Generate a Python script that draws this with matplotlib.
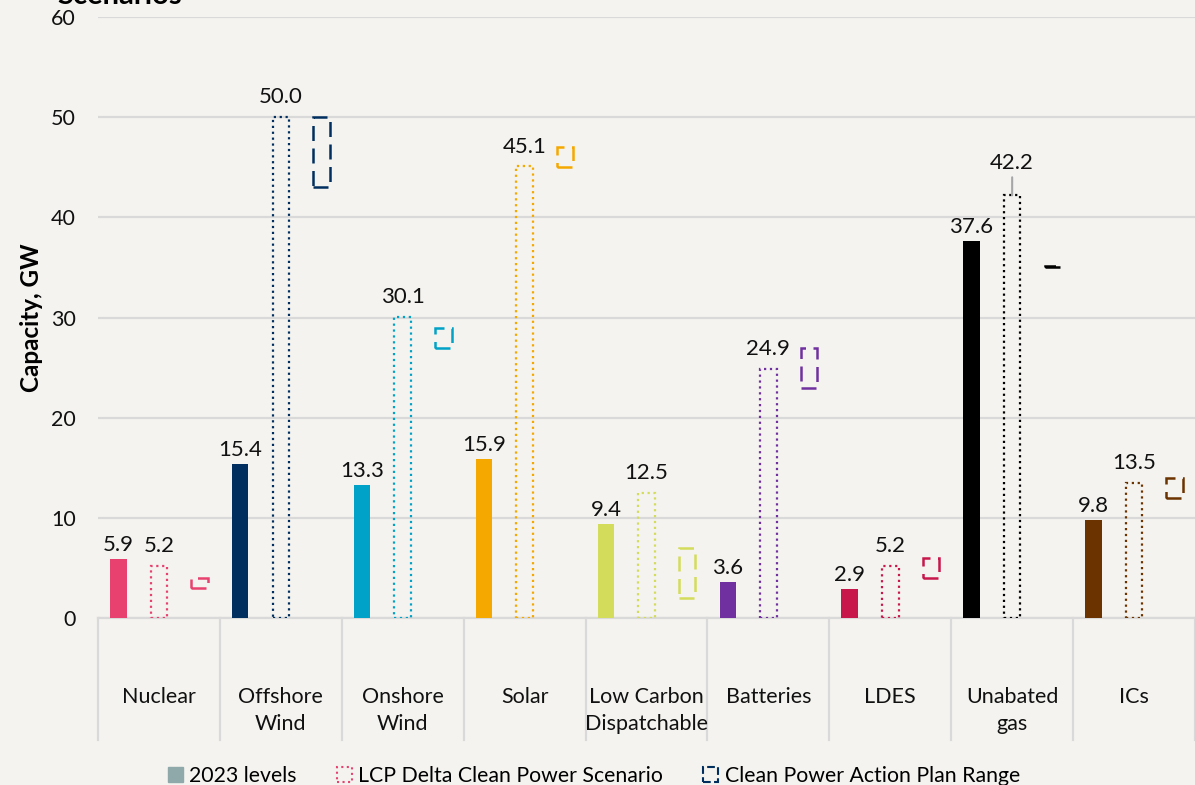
import matplotlib.pyplot as plt
from matplotlib.patches import Patch
import numpy as np

plt.rcParams['font.family'] = ['Lato', 'DejaVu Sans']

categories = ['Nuclear', 'Offshore\nWind', 'Onshore\nWind', 'Solar', 'Low Carbon\nDispatchable',
              'Batteries', 'LDES', 'Unabated\ngas', 'ICs']
levels_2023 = [5.9, 15.4, 13.3, 15.9, 9.4, 3.6, 2.9, 37.6, 9.8]
lcp_scenario = [5.2, 50.0, 30.1, 45.1, 12.5, 24.9, 5.2, 42.2, 13.5]
plan_low = [3, 43, 27, 45, 2, 23, 4, 35.0, 12]
plan_high = [4, 50, 29, 47, 7, 27, 6, 35.15, 14]
colors = ['#e8416f', '#002f5f', '#00a3c7', '#f5a800', '#d4dc5b',
          '#7030a0', '#c8174b', '#000000', '#6b3300']

bg = '#f4f3ef'
grid_col = '#d9d9d9'

fig = plt.figure(figsize=(11.95, 7.85), dpi=100, facecolor=bg)
ax = fig.add_axes([0.082, 0.2127, 0.918, 0.7656], facecolor=bg)

x = np.arange(len(categories))
w = 0.135
off = 0.333

ax.bar(x - off, levels_2023, w, color=colors, zorder=3)
ax.bar(x, lcp_scenario, w, fill=False, edgecolor=colors, linestyle=':', linewidth=1.6, zorder=3)
ax.bar(x + off, np.array(plan_high) - np.array(plan_low), w, bottom=plan_low, fill=False,
       edgecolor=colors, linestyle=(0, (6, 3)), linewidth=1.8, zorder=3)

for i in range(len(categories)):
    ax.annotate(f'{levels_2023[i]:.1f}', (x[i] - off, levels_2023[i]), xytext=(0, 3),
                textcoords='offset points', ha='center', va='bottom', fontsize=16, color='#111111')
    if i == 7:
        ax.annotate(f'{lcp_scenario[i]:.1f}', (x[i], lcp_scenario[i]), xytext=(0, 16),
                    textcoords='offset points', ha='center', va='bottom', fontsize=16,
                    color='#111111',
                    arrowprops=dict(arrowstyle='-', color='#a6a6a6', lw=1.5, shrinkA=1, shrinkB=0))
    else:
        ax.annotate(f'{lcp_scenario[i]:.1f}', (x[i], lcp_scenario[i]), xytext=(0, 7),
                    textcoords='offset points', ha='center', va='bottom', fontsize=16, color='#111111')

ax.set_xlim(-0.5, len(categories) - 0.5)
ax.set_ylim(0, 60)
ax.set_yticks(np.arange(0, 61, 10))
ax.yaxis.grid(True, color=grid_col, linewidth=1.6, zorder=0)
ax.set_axisbelow(True)
ax.tick_params(axis='y', length=0, pad=16, labelsize=15.5, labelcolor='#111111')
ax.set_xticks([])
for s in ['top', 'right', 'left']:
    ax.spines[s].set_visible(False)
ax.spines['bottom'].set_color(grid_col)
ax.spines['bottom'].set_linewidth(1.6)

# category separators and labels below the axis
for k in range(len(categories) + 1):
    ax.plot([k - 0.5, k - 0.5], [0, -12.2], color=grid_col, linewidth=1.6, clip_on=False)
for i, c in enumerate(categories):
    ax.text(x[i], -6.85, c, ha='center', va='top', fontsize=15.5, color='#111111', linespacing=1.45)

ax.set_ylabel('Capacity, GW', fontsize=17.5, fontweight='bold', labelpad=6)

fig.text(0.048, 0.995, 'Scenarios', fontsize=21, fontweight='bold', ha='left', va='baseline')

handles = [Patch(facecolor='#8fa9ab', edgecolor='#8fa9ab'),
           Patch(facecolor='none', edgecolor='#e8416f', linestyle=':', linewidth=1.5),
           Patch(facecolor='none', edgecolor='#002f5f', linestyle='--', linewidth=1.5)]
labels = ['2023 levels', 'LCP Delta Clean Power Scenario', 'Clean Power Action Plan Range']
fig.legend(handles, labels, loc='center', bbox_to_anchor=(0.497, 0.011), ncol=3, frameon=False,
           fontsize=15.3, handlelength=0.7, handleheight=0.7, handletextpad=0.3, columnspacing=1.9)

fig.savefig('out.png', dpi=100, facecolor=bg)
